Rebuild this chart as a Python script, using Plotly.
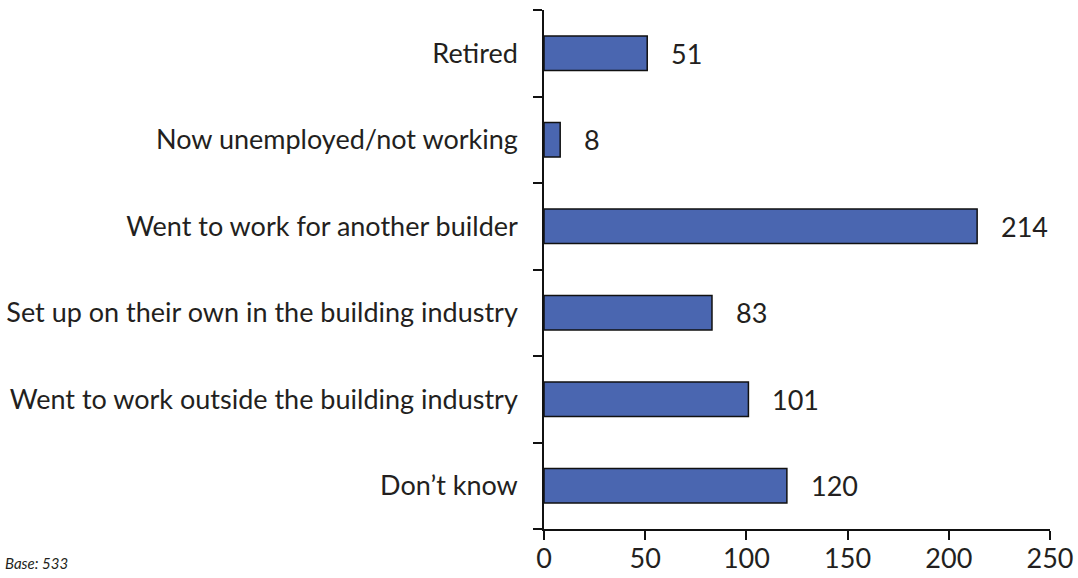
import plotly.graph_objects as go

categories = [
    "Retired",
    "Now unemployed/not working",
    "Went to work for another builder",
    "Set up on their own in the building industry",
    "Went to work outside the building industry",
    "Don\u2019t know",
]
values = [51, 8, 214, 83, 101, 120]
x_ticks = [0, 50, 100, 150, 200, 250]

FONT = "Lato, Open Sans, DejaVu Sans, sans-serif"
TEXT = "#231f20"
FS = 27

fig = go.Figure()
fig.add_trace(go.Bar(
    y=categories, x=values, orientation="h",
    marker=dict(color="#4a66b0", line=dict(color="#111111", width=1.5)),
    width=0.4, hoverinfo="skip",
))

for c, v in zip(categories, values):
    fig.add_annotation(x=v, y=c, text=str(v), showarrow=False,
                       xanchor="left", xshift=22,
                       font=dict(size=FS, color=TEXT, family=FONT))

fig.add_annotation(x=0, y=0, xref="paper", yref="paper", xanchor="left", yanchor="middle",
                   text="<i>Base: 533</i>", showarrow=False,
                   xshift=-541, yshift=-34,
                   font=dict(size=15, color=TEXT, family=FONT))

fig.update_layout(
    width=1078, height=578,
    margin=dict(l=544, r=28, t=10, b=49),
    paper_bgcolor="white", plot_bgcolor="white",
    showlegend=False,
    font=dict(family=FONT, color=TEXT, size=FS),
)
fig.update_xaxes(
    range=[0, 250], tickvals=x_ticks, ticktext=[str(t) for t in x_ticks],
    automargin=False, ticklabeloverflow="allow", ticklabelstandoff=-4,
    showgrid=False, zeroline=False, showline=True, linecolor="#111111", linewidth=1.5,
    ticks="outside", ticklen=9, tickcolor="#111111", tickwidth=1.5,
    tickfont=dict(size=FS, color=TEXT, family=FONT),
)
fig.update_yaxes(
    categoryorder="array", categoryarray=categories[::-1],
    range=[-0.5, 5.5], tickson="boundaries", automargin=False,
    showgrid=False, zeroline=False, showline=True, linecolor="#111111", linewidth=1.5,
    ticks="outside", ticklen=9, tickcolor="#111111", tickwidth=1.5,
    ticklabelstandoff=19,
    tickfont=dict(size=FS, color=TEXT, family=FONT),
)

fig.write_html(
    "out.html",
    config={"displayModeBar": False},
    post_script="document.body.style.margin='0px';document.body.style.overflow='hidden';",
)
